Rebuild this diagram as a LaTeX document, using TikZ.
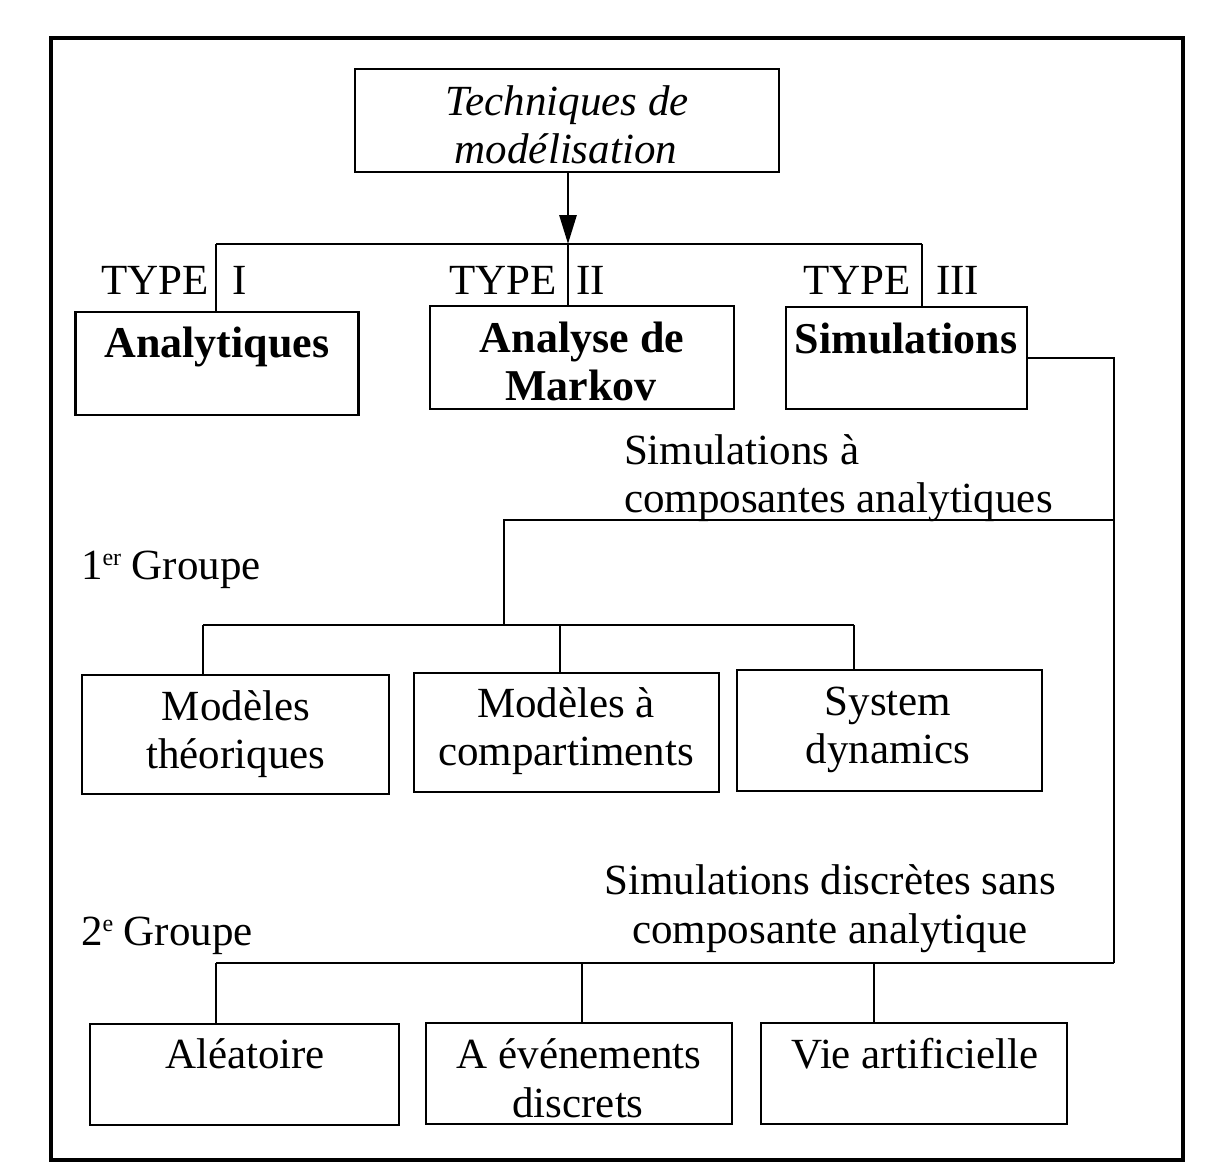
\documentclass[tikz,border=0pt]{standalone}
\usepackage{fontspec}
\setmainfont{Liberation Serif}
\usetikzlibrary{arrows.meta}
\newcommand{\supx}[1]{\raisebox{14pt}{\fontsize{24}{24}\selectfont #1}}
\begin{document}
\begin{tikzpicture}[x=1pt,y=-1pt,
  every node/.style={font=\fontsize{43}{48}\selectfont},
  txt/.style={anchor=base,inner sep=0pt,outer sep=0pt},
  box/.style={draw,line width=2.9pt,rectangle,inner sep=0pt,outer sep=0pt},
  conn/.style={line width=2.9pt},
  bld/.style={txt,font=\fontsize{44}{48}\selectfont\bfseries}]
\useasboundingbox (0,0) rectangle (1215,1171);
% outer frame
\draw[line width=3.2pt] (51,38) rectangle (1183,1160);
% top box
\node[box,minimum width=424pt,minimum height=103pt] (tech) at (567,120.5) {};
\node[txt] (techa) at (567,115) {\itshape Techniques de};
\node[txt] (techb) at (566,163) {\itshape modélisation};
% type boxes
\node[box,minimum width=283pt,minimum height=103pt] (ana) at (217,363.5) {};
\node[bld] (anat) at (217,357) {Analytiques};
\node[box,minimum width=304pt,minimum height=103pt] (mar) at (582,357.5) {};
\node[bld] (mara) at (582,352) {Analyse de};
\node[bld] (marb) at (581,400) {Markov};
\node[box,minimum width=241pt,minimum height=102pt] (sim) at (906.5,358) {};
\node[bld] (simt) at (906,353) {Simulations};
% bus
\coordinate (b1) at (216,244);
\coordinate (b2) at (568,244);
\coordinate (b3) at (922,244);
\draw[conn,-{Triangle[length=29pt,width=17pt]}] (tech.south -| b2) -- (b2);
\draw[conn] (b1) -- (b3);
\draw[conn] (b1) -- (b1 |- ana.north);
\draw[conn] (b2) -- (b2 |- mar.north);
\draw[conn] (b3) -- (b3 |- sim.north);
% type labels
\node[txt,anchor=base east] (t1) at (209,294) {TYPE};
\node[txt,anchor=base west] (t1n) at (232,294) {I};
\node[txt,anchor=base east] (t2) at (557,294) {TYPE};
\node[txt,anchor=base west] (t2n) at (576,294) {II};
\node[txt,anchor=base east] (t3) at (911,294) {TYPE};
\node[txt,anchor=base west] (t3n) at (936,294) {III};
% trunk
\coordinate (r1) at (1114,520);
\coordinate (r2) at (1114,963);
\draw[conn] (sim.east) -| (r2);
% group 1
\node[txt,anchor=base west] (sa1) at (624,464) {Simulations à};
\node[txt,anchor=base west] (sa2) at (624,512) {composantes analytiques};
\node[txt,anchor=base west] (g1) at (81,579) {1\supx{er} Groupe};
\coordinate (m1) at (504,520);
\coordinate (m2) at (504,625);
\draw[conn] (r1) -- (m1) -- (m2);
\coordinate (c1) at (203,625);
\coordinate (c2) at (560,625);
\coordinate (c3) at (854,625);
\draw[conn] (c1) -- (c3);
\node[box,minimum width=307pt,minimum height=119pt] (mt) at (235.5,734.5) {};
\node[txt] (mta) at (236,720) {Modèles};
\node[txt] (mtb) at (236,768) {théoriques};
\node[box,minimum width=305pt,minimum height=119pt] (mc) at (566.5,732.5) {};
\node[txt] (mca) at (566,717) {Modèles à};
\node[txt] (mcb) at (566,765) {compartiments};
\node[box,minimum width=305pt,minimum height=121pt] (sd) at (889.5,730.5) {};
\node[txt] (sda) at (888,715) {System};
\node[txt] (sdb) at (888,763) {dynamics};
\draw[conn] (c1) -- (c1 |- mt.north);
\draw[conn] (c2) -- (c2 |- mc.north);
\draw[conn] (c3) -- (c3 |- sd.north);
% group 2
\node[txt] (sd1) at (830,894) {Simulations discrètes sans};
\node[txt] (sd2) at (830,943) {composante analytique};
\node[txt,anchor=base west] (g2) at (81,945) {2\supx{e} Groupe};
\coordinate (d1) at (216,963);
\coordinate (d2) at (582,963);
\coordinate (d3) at (874,963);
\draw[conn] (r2) -- (d1);
\node[box,minimum width=309pt,minimum height=101pt] (al) at (244.5,1074.5) {};
\node[txt] (alt) at (245,1068) {Aléatoire};
\node[box,minimum width=306pt,minimum height=101pt] (ev) at (579,1073.5) {};
\node[txt] (eva) at (579,1068) {A événements};
\node[txt] (evb) at (578,1117) {discrets};
\node[box,minimum width=306pt,minimum height=101pt] (va) at (914,1073.5) {};
\node[txt] (vat) at (915,1068) {Vie artificielle};
\draw[conn] (d1) -- (d1 |- al.north);
\draw[conn] (d2) -- (d2 |- ev.north);
\draw[conn] (d3) -- (d3 |- va.north);
\end{tikzpicture}
\end{document}
